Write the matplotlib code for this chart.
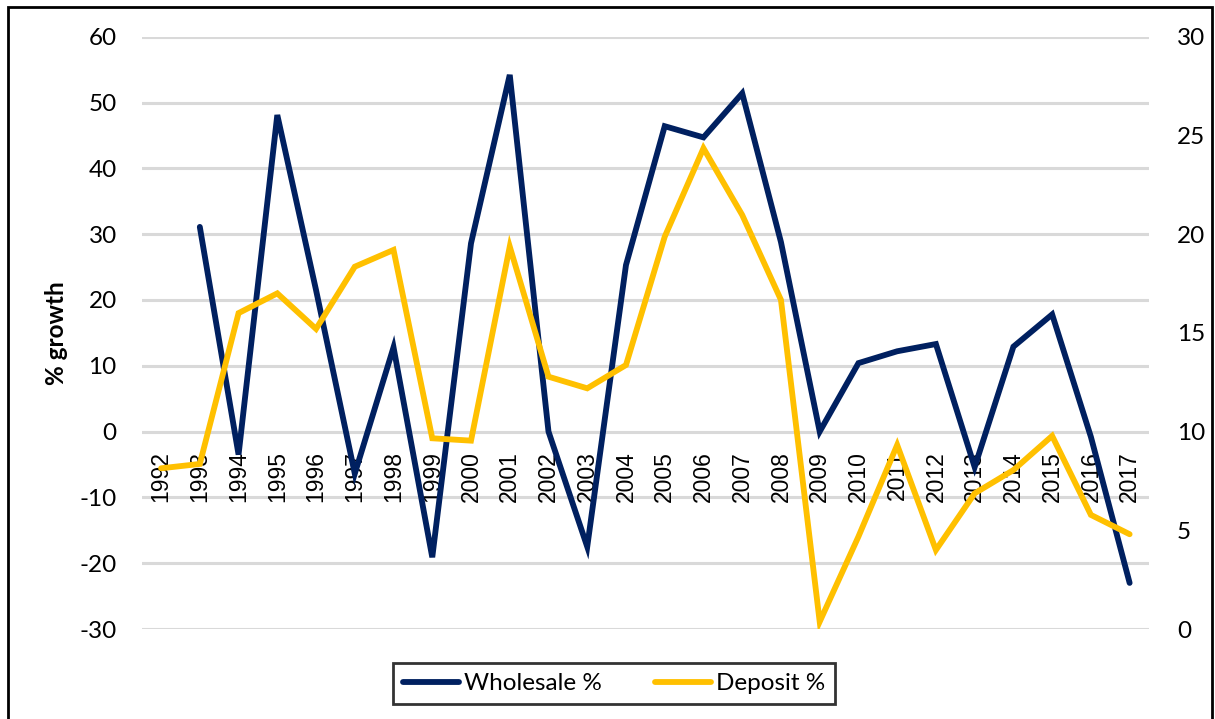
import matplotlib
matplotlib.use("Agg")
import matplotlib.pyplot as plt
from matplotlib.patches import Rectangle
import numpy as np

years = [str(y) for y in range(1992, 2018)]
wholesale = [np.nan, 31.1, -3.5, 48.1, 21.5, -6.4, 12.8, -19.1, 28.6, 54.2,
             0.0, -17.5, 25.3, 46.4, 44.7, 51.4, 28.8, 0.0, 10.4, 12.2,
             13.3, -5.4, 12.9, 17.8, -0.8, -23.0]
deposit = [8.14, 8.36, 16.0, 17.0, 15.2, 18.35, 19.2, 9.66, 9.54, 19.37,
           12.78, 12.19, 13.37, 19.87, 24.35, 20.97, 16.67, 0.37, 4.68, 9.32,
           4.0, 6.87, 8.05, 9.78, 5.78, 4.80]
left_ticks = [-30, -20, -10, 0, 10, 20, 30, 40, 50, 60]
right_ticks = [0, 5, 10, 15, 20, 25, 30]

NAVY = "#002060"
GOLD = "#FFC000"
GRID = "#D9D9D9"
FS = 17.5

W, H = 1215, 719
fig = plt.figure(figsize=(W / 100, H / 100), dpi=100)
ax = fig.add_axes([141.7 / W, 1 - 629 / H, (1149 - 141.7) / W, (629 - 36.7) / H])
ax2 = ax.twinx()

x = np.arange(len(years))
ax.set_xlim(-0.5, len(years) - 0.5)
ax.set_ylim(-30, 60)
ax2.set_ylim(0, 30)

for t in left_ticks:
    ax.axhline(t, color=GRID, lw=2.2, zorder=0)

l1, = ax.plot(x, wholesale, color=NAVY, lw=4.2, solid_joinstyle="miter",
              solid_capstyle="round", zorder=3, label="Wholesale %")
l2, = ax2.plot(x, deposit, color=GOLD, lw=4.2, solid_joinstyle="miter",
               solid_capstyle="round", zorder=2, label="Deposit %")

ax.set_yticks(left_ticks)
ax.set_yticklabels([str(t) for t in left_ticks], fontfamily="Lato", fontsize=FS)
ax2.set_yticks(right_ticks)
ax2.set_yticklabels([str(t) for t in right_ticks], fontfamily="Lato", fontsize=FS)
ax.tick_params(axis="y", length=0, pad=18)
ax2.tick_params(axis="y", length=0, pad=20)

ax.spines["bottom"].set_position(("data", 0))
ax.set_xticks(x)
ax.set_xticklabels(years, rotation=90, fontfamily="Liberation Sans", fontsize=16.5,
                   va="top")
ax.tick_params(axis="x", length=0, pad=14)

for a in (ax, ax2):
    for s in a.spines.values():
        s.set_visible(False)

ax.set_ylabel("% growth", fontfamily="Lato", fontweight="bold", fontsize=FS, labelpad=8)

leg = fig.legend(handles=[l1, l2], loc="center", bbox_to_anchor=(614 / W, 1 - 683.5 / H),
                 ncol=2, frameon=True, fancybox=False, edgecolor="black",
                 prop={"family": "Lato", "size": FS}, handlelength=2.3,
                 handletextpad=0.2, columnspacing=2.2, borderpad=0.4)
leg.get_frame().set_linewidth(2)

fig.patches.append(Rectangle((8 / W, -0.02), (1212 - 8) / W, 1 - 7 / H + 0.02,
                             transform=fig.transFigure, fill=False, edgecolor="black",
                             lw=2, clip_on=False))

fig.savefig("out.png", dpi=100)
